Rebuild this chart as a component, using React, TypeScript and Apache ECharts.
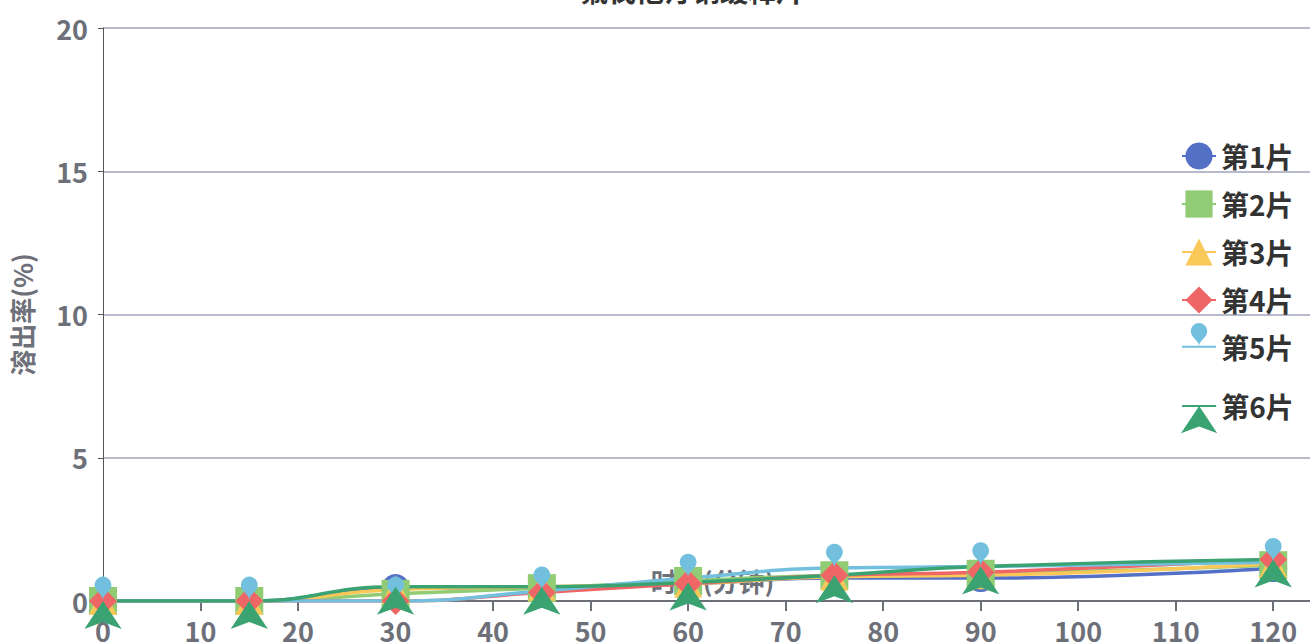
import React, { useEffect, useRef } from "react";
import * as echarts from "echarts";

const titleText = "氟伐他汀钠缓释片";
const xName = "时间(分钟)";
const yName = "溶出率(%)";
const times = [0, 15, 30, 45, 60, 75, 90, 120];
const seriesNames = ["第1片", "第2片", "第3片", "第4片", "第5片", "第6片"];
const s1 = [0, 0, 0.45, 0.45, 0.6, 0.8, 0.8, 1.15];
const s2 = [0, 0, 0.25, 0.45, 0.7, 0.9, 0.95, 1.25];
const s3 = [0, 0, 0.4, 0.5, 0.6, 0.85, 0.9, 1.3];
const s4 = [0, 0, 0, 0.3, 0.6, 0.9, 1.0, 1.45];
const s5 = [0, 0, 0, 0.35, 0.8, 1.15, 1.2, 1.35];
const s6 = [0, 0, 0.5, 0.5, 0.65, 0.9, 1.2, 1.45];
const allSeries = [s1, s2, s3, s4, s5, s6];
const colors = ["#5470c6", "#91cc75", "#fac858", "#ee6666", "#73c0de", "#3ba272"];
const symbols = ["circle", "rect", "triangle", "diamond", "pin", "arrow"];

export default function App() {
  const ref = useRef<HTMLDivElement>(null);
  useEffect(() => {
    if (!ref.current) return;
    const chart = echarts.init(ref.current, undefined, { renderer: "svg" });
    const font = "'Noto Sans CJK SC', 'Noto Sans', sans-serif";
    const legendText = { fontSize: 28, fontWeight: "bold", color: "#333", fontFamily: font };
    const legendBase = {
      orient: "vertical",
      left: 1181,
      padding: 0,
      itemWidth: 34,
      itemHeight: 34,
      itemGap: 20,
      textStyle: legendText,
    };
    chart.setOption({
      animation: false,
      color: colors,
      title: {
        text: titleText,
        left: "center",
        top: 6,
        padding: 0,
        textStyle: { fontSize: 28, fontWeight: "bold", color: "#333", fontFamily: font },
      },
      legend: [
        { ...legendBase, top: 172, data: seriesNames.slice(0, 4) },
        { ...legendBase, top: 353, data: seriesNames.slice(4, 5) },
        { ...legendBase, top: 422, data: seriesNames.slice(5) },
      ],
      grid: { left: 102, top: 58, right: 62, bottom: 38 },
      xAxis: {
        type: "value",
        min: 0,
        max: 125,
        interval: 10,
        name: xName,
        nameLocation: "middle",
        nameGap: -34,
        nameTextStyle: { fontSize: 26, color: "#6e7079", fontWeight: "bold", fontFamily: font },
        axisLine: { lineStyle: { color: "#6e7079", width: 2 } },
        axisTick: { length: 10, lineStyle: { width: 2 } },
        axisLabel: {
          showMaxLabel: false,
          margin: 16,
          fontSize: 27,
          fontWeight: "bold",
          color: "#6e7079",
          fontFamily: font,
        },
        splitLine: { show: false },
      },
      yAxis: {
        type: "value",
        min: 0,
        max: 20,
        interval: 5,
        name: yName,
        nameLocation: "middle",
        nameGap: 69,
        nameTextStyle: { fontSize: 26, color: "#6e7079", fontWeight: "bold", fontFamily: font },
        axisLabel: {
          margin: 15,
          fontSize: 27,
          fontWeight: "bold",
          color: "#6e7079",
          fontFamily: font,
        },
        splitLine: { lineStyle: { color: "#b6bacb", width: 2 } },
      },
      series: allSeries.map((vals, i) => ({
        name: seriesNames[i],
        type: "line",
        smooth: true,
        symbol: symbols[i],
        symbolSize: 28,
        lineStyle: { width: 3.5 },
        data: vals.map((v, j) => [times[j], v]),
      })),
    });
    return () => chart.dispose();
  }, []);
  return (
    <div
      ref={ref}
      style={{ position: "absolute", left: 0, top: -30, width: 1384, height: 674 }}
    />
  );
}
